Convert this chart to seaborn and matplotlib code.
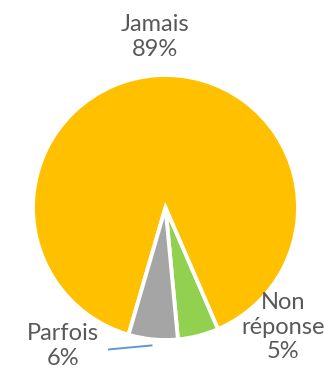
import matplotlib
matplotlib.use("Agg")
import matplotlib.pyplot as plt
import numpy as np
import seaborn as sns

# Survey answers (share of respondents, %)
categories = ["Non réponse", "Jamais", "Parfois"]
values = [5, 89, 6]
colors = ["#92D050", "#FFC000", "#A5A5A5"]
explode = [0.025, 0.01, 0.025]

sns.set_theme(style="white")
plt.rcParams["font.family"] = ["Lato", "DejaVu Sans"]

W, H = 324, 368
fig = plt.figure(figsize=(W / 100, H / 100), dpi=100)
ax = fig.add_axes([0, 0, 1, 1])

cx, cy, r = 165.5, H - 207.5, 132.5
wedges, _ = ax.pie(values, colors=colors, explode=explode, startangle=-84.6,
                   counterclock=True, center=(cx, cy), radius=r, frame=True,
                   wedgeprops=dict(edgecolor="white", linewidth=2.8))
ax.set_xlim(0, W)
ax.set_ylim(0, H)
ax.set_aspect("equal")
ax.axis("off")

txt_color = "#595959"
fs = 17
label_pos = {
    "Jamais": (155, H - 37),
    "Non réponse": (283, H - 327),
    "Parfois": (63, H - 346),
}
label_text = {
    "Jamais": "Jamais",
    "Non réponse": "Non\nréponse",
    "Parfois": "Parfois",
}
for name, v in zip(categories, values):
    x, y = label_pos[name]
    ax.text(x, y, f"{label_text[name]}\n{v}%", ha="center", va="center",
            fontsize=fs, color=txt_color, linespacing=1.22)

# leader line for the small "Parfois" slice
w = wedges[categories.index("Parfois")]
mid = np.deg2rad((w.theta1 + w.theta2) / 2)
ex, ey = cx + r * 1.045 * np.cos(mid), cy + r * 1.045 * np.sin(mid)
ax.plot([108, ex], [H - 349.5, ey], color="#5B9BD5", lw=1.4,
        solid_capstyle="butt")

fig.savefig("out.png", dpi=100, facecolor="white")
